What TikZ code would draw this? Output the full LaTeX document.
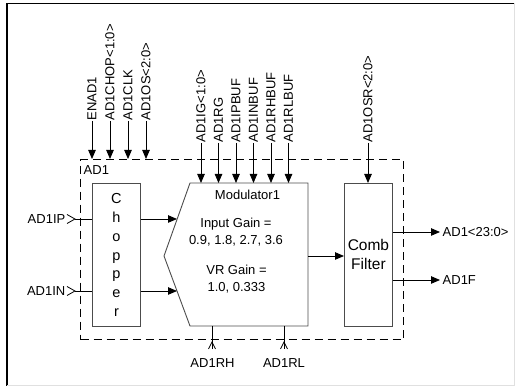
\documentclass[tikz,border=0pt]{standalone}
\usepackage{fontspec}
\setmainfont{Liberation Sans}
\usetikzlibrary{arrows.meta}
\begin{document}
\begin{tikzpicture}[x=1pt,y=-1pt,
  font=\fontsize{13}{16}\selectfont,
  blk/.style={draw=black!70, line width=0.9pt, inner sep=0pt},
  arr/.style={-{Triangle[length=9pt,width=7.5pt]}, line width=0.8pt},
  wire/.style={line width=0.8pt},
  vlbl/.style={rotate=90, anchor=west, inner sep=0.5pt},
  hlbl/.style={inner sep=0.5pt},
  dashbox/.style={draw, line width=1.2pt, dash pattern=on 8pt off 5pt, inner sep=0pt}]
\useasboundingbox (0,0) rectangle (515,387);
% frame
\draw[line width=1.4pt] (7,386) -- (7,3.5) -- (515,3.5);
\draw[black!12, line width=1pt] (7,386) -- (514,386) -- (514,3.5);
% dashed AD1 block
\node[dashbox, minimum width=323pt, minimum height=180pt, anchor=north west] (ad1) at (80,159) {};
\node[hlbl, anchor=base west] (ad1lbl) at (83,175) {AD1};
% chopper
\node[blk, minimum width=48pt, minimum height=143pt, anchor=north west, align=center,
  font=\fontsize{14.5}{18.7}\selectfont] (chop) at (92,183) {C\\h\\o\\p\\p\\e\\r};
% modulator
\coordinate (mtl) at (190,183);
\coordinate (mtr) at (308,183);
\coordinate (mbr) at (308,326);
\coordinate (mbl) at (190,326);
\coordinate (mtip) at (164,256);
\draw[blk] (mtl) -- (mtr) -- (mbr) -- (mbl) -- (mtip) -- cycle;
\node[hlbl, anchor=base] (modname) at (247.5,200) {Modulator1};
\node[hlbl, anchor=base] (ig1) at (236,227.5) {Input Gain =};
\node[hlbl, anchor=base] (ig2) at (236,244.5) {0.9, 1.8, 2.7, 3.6};
\node[hlbl, anchor=base] (vr1) at (236.5,275) {VR Gain =};
\node[hlbl, anchor=base] (vr2) at (236.5,291.5) {1.0, 0.333};
% comb filter
\node[blk, minimum width=48pt, minimum height=143pt, anchor=north west, align=center,
  font=\fontsize{15.5}{19}\selectfont] (comb) at (344,183) {Comb\\Filter};
% top inputs to chopper group
\node[vlbl] (enad) at (92,121) {ENAD1};
\node[vlbl] (chp) at (110,121) {AD1CHOP<1:0>};
\node[vlbl] (clk) at (128,121) {AD1CLK};
\node[vlbl] (os) at (146,121) {AD1OS<2:0>};
\foreach \n in {enad,chp,clk,os}
  \draw[arr] (\n.west) -- (\n.west |- ad1.north);
% modulator inputs
\node[vlbl] (ig) at (201,143) {AD1IG<1:0>};
\node[vlbl] (rg) at (218.5,143) {AD1RG};
\node[vlbl] (ipb) at (236,143) {AD1IPBUF};
\node[vlbl] (inb) at (253.5,143) {AD1INBUF};
\node[vlbl] (rhb) at (271,143) {AD1RHBUF};
\node[vlbl] (rlb) at (288.5,143) {AD1RLBUF};
\foreach \n in {ig,rg,ipb,inb,rhb,rlb}
  \draw[arr] (\n.west) -- (\n.west |- mtl);
% comb input
\node[vlbl] (osr) at (368,143) {AD1OSR<2:0>};
\draw[arr] (osr.west) -- (osr.west |- comb.north);
% left inputs
\node[hlbl, anchor=east] (ip) at (66,219) {AD1IP};
\node[hlbl, anchor=east] (in) at (66,291) {AD1IN};
\coordinate (ipm) at (75,219);
\coordinate (inm) at (75,291);
\draw[wire] (67,214.5) -- (ipm) -- (67,223.5);
\draw[wire] (67,286.5) -- (inm) -- (67,295.5);
\draw[wire] (ipm) -- (ipm -| chop.west);
\draw[wire] (inm) -- (inm -| chop.west);
% chopper to modulator
\coordinate (m1) at (177,219);
\coordinate (m2) at (177,291);
\draw[arr] (m1 -| chop.east) -- (m1);
\draw[arr] (m2 -| chop.east) -- (m2);
% modulator to comb
\coordinate (mo) at (308,256);
\draw[arr] (mo) -- (mo -| comb.west);
% outputs
\node[hlbl, anchor=west] (out1) at (442,232) {AD1<23:0>};
\node[hlbl, anchor=west] (out2) at (442,280) {AD1F};
\draw[arr] (out1.west -| comb.east) -- ([xshift=-2pt]out1.west);
\draw[arr] (out2.west -| comb.east) -- ([xshift=-2pt]out2.west);
% bottom references
\node[hlbl, anchor=center] (rh) at (212.5,363) {AD1RH};
\node[hlbl, anchor=center] (rl) at (284,363) {AD1RL};
\coordinate (rhe) at (212,349);
\coordinate (rle) at (284,349);
\draw[wire] (rhe |- mbl) -- (rhe);
\draw[wire] (rle |- mbl) -- (rle);
\draw[wire] (208.5,349) -- (212,342) -- (215.5,349);
\draw[wire] (280.5,349) -- (284,342) -- (287.5,349);
\end{tikzpicture}
\end{document}
